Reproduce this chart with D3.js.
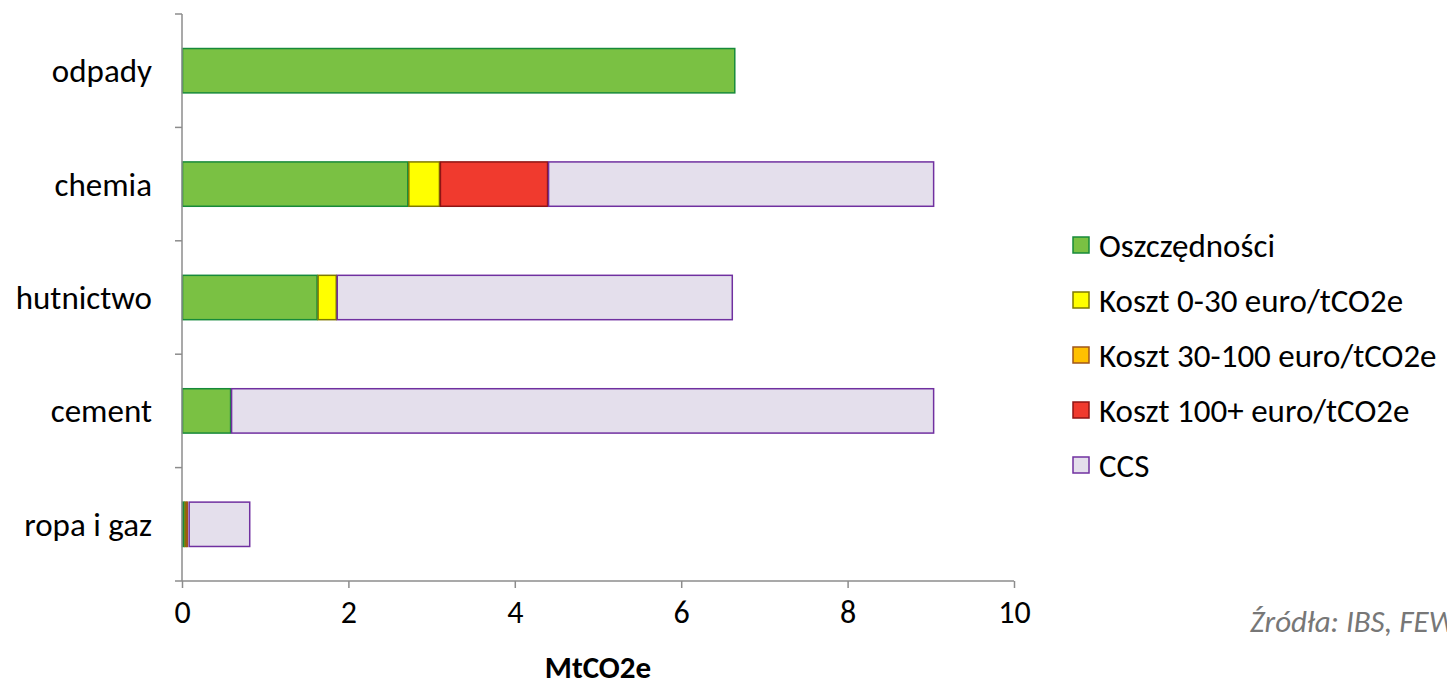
<!DOCTYPE html>
<html><head><meta charset="utf-8">
<script src="https://cdn.jsdelivr.net/npm/d3@7"></script>
<style>
body{margin:0;background:#fff;}
svg{display:block;font-family:Carlito,Lato,"Open Sans",sans-serif;}
</style></head><body>
<svg id="c" width="1447" height="685"></svg>
<script>
const categories = ["odpady","chemia","hutnictwo","cement","ropa i gaz"];
const seriesNames = ["Oszczędności","Koszt 0-30 euro/tCO2e","Koszt 30-100 euro/tCO2e","Koszt 100+ euro/tCO2e","CCS"];
const oszczednosci = [6.65, 2.72, 1.63, 0.59, 0.03];
const koszt0_30    = [0,    0.38, 0.23, 0,    0.02];
const koszt30_100  = [0,    0,    0,    0,    0.02];
const koszt100     = [0,    1.30, 0,    0,    0.01];
const ccs          = [0,    4.64, 4.76, 8.45, 0.74];
const xTicks = [0,2,4,6,8,10];
const fills   = ["#7AC143","#FFFF00","#FFC000","#F03A2E","#E4DFEC"];
const strokes = ["#178A3A","#7F7A00","#A0561A","#8E1414","#7030A0"];

const seriesVals = [oszczednosci,koszt0_30,koszt30_100,koszt100,ccs];
const table = categories.map((c,i)=>{const o={cat:c}; seriesNames.forEach((s,j)=>o[s]=seriesVals[j][i]); return o;});
const stack = d3.stack().keys(seriesNames)(table);

const svg = d3.select("#c");
const x = d3.scaleLinear().domain([0,10]).range([182,1014]);
const y = d3.scaleBand().domain(categories).range([14,581]).paddingInner(0.6).paddingOuter(0.3);
const yb = d3.scaleBand().domain(categories).range([14,581]);

// bars
stack.forEach((layer,j)=>{
  svg.append("g").selectAll("rect").data(layer.filter(d=>d[1]-d[0]>0)).join("rect")
    .attr("x",d=>x(d[0])+0.5)
    .attr("y",d=>y(d.data.cat)+0.5)
    .attr("width",d=>Math.max(0,x(d[1])-x(d[0])-1))
    .attr("height",y.bandwidth()-1)
    .attr("fill",fills[j]).attr("stroke",strokes[j]).attr("stroke-width",1.5);
});

const axisColor="#8c8c8c";
// y axis
const ya = svg.append("g");
ya.append("line").attr("x1",182).attr("x2",182).attr("y1",14).attr("y2",581).attr("stroke",axisColor).attr("stroke-width",1.5);
const yEdges = categories.map(c=>yb(c)).concat([581]);
ya.selectAll("line.t").data(yEdges).join("line").attr("class","t")
  .attr("x1",175).attr("x2",182).attr("y1",d=>d).attr("y2",d=>d).attr("stroke",axisColor).attr("stroke-width",1.5);
ya.selectAll("text").data(categories).join("text")
  .attr("x",152).attr("y",c=>yb(c)+yb.bandwidth()/2).attr("dy","0.35em")
  .attr("text-anchor","end").attr("font-size",33).attr("fill","#000").text(d=>d);

// x axis
const xa = svg.append("g").attr("transform","translate(0,581)")
  .call(d3.axisBottom(x).tickValues(xTicks).tickSize(7).tickPadding(12).tickFormat(d3.format("d")));
xa.select(".domain").attr("stroke",axisColor).attr("stroke-width",1.5).attr("d","M182,0H1014");
xa.selectAll(".tick line").attr("stroke",axisColor).attr("stroke-width",1.5);
xa.selectAll(".tick text").attr("font-size",32).attr("fill","#000").attr("font-family","Carlito,Lato,sans-serif");

svg.append("text").attr("x",598).attr("y",678).attr("text-anchor","middle")
  .attr("font-size",31).attr("font-weight","bold").text("MtCO2e");

// legend
const lg = svg.append("g");
seriesNames.forEach((s,j)=>{
  const yy = 245 + j*55;
  lg.append("rect").attr("x",1073).attr("y",yy-8).attr("width",16).attr("height",16)
    .attr("fill",fills[j]).attr("stroke",strokes[j]).attr("stroke-width",1.5);
  lg.append("text").attr("x",1099).attr("y",yy).attr("dy","0.35em").attr("font-size",33).text(s);
});

// source (clipped at the right edge as in the reference)
svg.append("text").attr("x",1250).attr("y",632).attr("font-size",31).attr("font-style","italic")
  .attr("font-weight",300).attr("fill","#777").text("Źródła: IBS, FEWE");
</script>
</body></html>
